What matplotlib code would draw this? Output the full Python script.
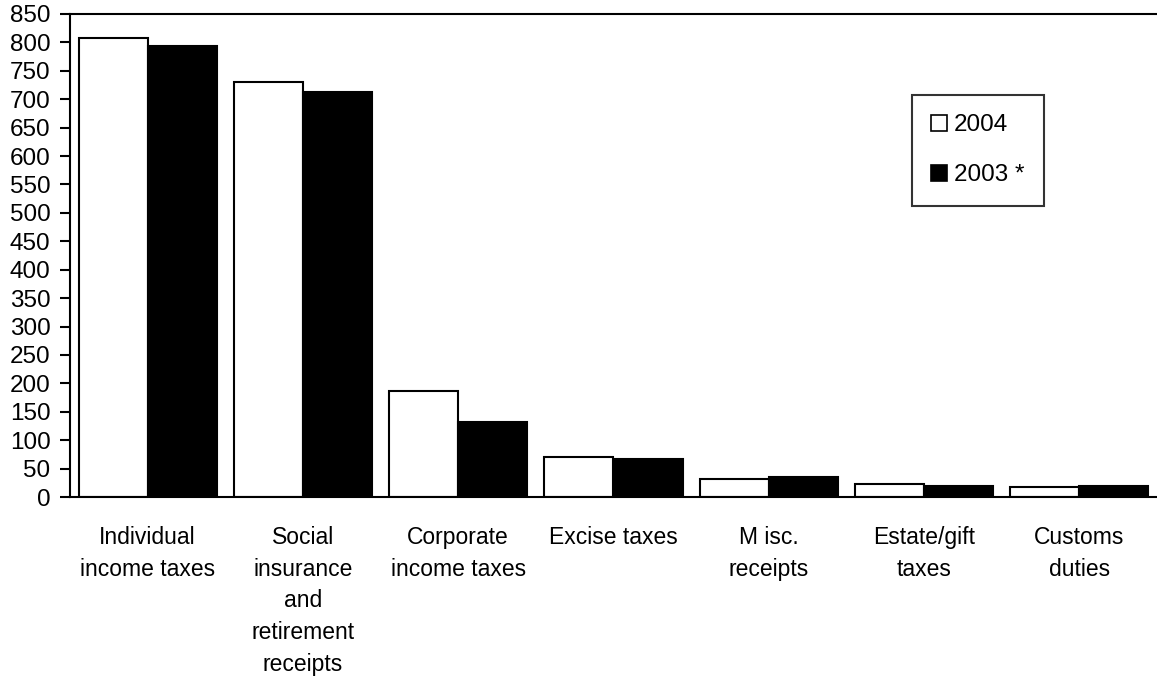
import matplotlib
matplotlib.use("Agg")
import matplotlib.pyplot as plt
import numpy as np
from matplotlib.patches import Patch

categories = ["Individual\nincome taxes", "Social\ninsurance\nand\nretirement\nreceipts",
              "Corporate\nincome taxes", "Excise taxes", "M isc.\nreceipts",
              "Estate/gift\ntaxes", "Customs\nduties"]
values_2004 = [808, 731, 187, 70, 31, 22, 18]
values_2003 = [793, 712, 132, 67, 35, 19, 19]
yticks = list(range(0, 851, 50))

plt.rcParams['font.family'] = ['Liberation Sans', 'DejaVu Sans']
fig = plt.figure(figsize=(11.57, 6.80), dpi=100)
ax = fig.add_axes([70/1157, 1-497/680, 1-70/1157, (497-14)/680])

x = np.arange(len(categories))
w = 0.445
ax.bar(x - w/2, values_2004, w, color='white', edgecolor='black', linewidth=1.5)
ax.bar(x + w/2, values_2003, w, color='black', edgecolor='black', linewidth=1.5)

ax.set_xlim(-0.5, len(categories) - 0.5)
ax.set_ylim(0, 850)
ax.set_yticks(yticks)
ax.set_yticklabels([str(t) for t in yticks], fontsize=17.5)
ax.set_xticks(x)
ax.set_xticklabels(categories, fontsize=16.5, linespacing=1.48, va='top')
ax.tick_params(axis='x', length=0, pad=21)
ax.tick_params(axis='y', length=7, width=1.5, direction='out', pad=7)
for s in ['left', 'bottom', 'top']:
    ax.spines[s].set_linewidth(1.5)
ax.spines['right'].set_visible(False)

handles = [Patch(facecolor='white', edgecolor='black', linewidth=1.2, label='2004'),
           Patch(facecolor='black', edgecolor='black', linewidth=1.2, label='2003 *')]
leg = fig.legend(handles=handles, loc='upper left', bbox_to_anchor=(912/1157, 1-95/680),
                 fontsize=17.5, frameon=True, fancybox=False, edgecolor='black',
                 handlelength=0.62, handleheight=0.62, handletextpad=0.3,
                 labelspacing=1.15, borderpad=0.8, borderaxespad=0)
leg.get_frame().set_linewidth(1.5)

fig.savefig("out.png", dpi=100)
